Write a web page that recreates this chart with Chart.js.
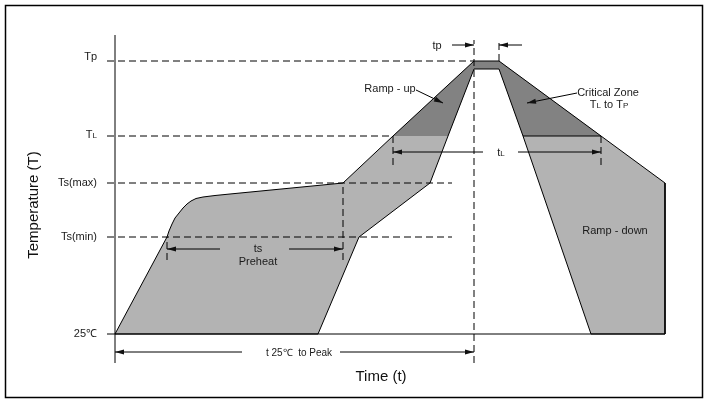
<!DOCTYPE html>
<html><head><meta charset="utf-8">
<script src="https://cdn.jsdelivr.net/npm/chart.js@4/dist/chart.umd.min.js"></script>
<style>html,body{margin:0;padding:0;background:#fff}canvas{display:block}</style>
</head><body>
<canvas id="c" width="708" height="403"></canvas>
<script>
// ---- Data (schematic units: t = time, T = temperature level) ----
const levelLabels = [['25℃'], ['Ts(min)'], ['Ts(max)'], ['T', 'L'], ['T', 'p']];
const levelValues = [0, 97, 151, 198, 273];
const levelLineEnd = [null, 337, 337, 278, 359];   // where each dashed level line stops
const levelLineStart = -8;

// hot (outer) edge of the profile band
const profileHot = [[0,0],[52,97],[54,103],[57,110],[60,116],[64,121],[68,126],[72,130],[76,133],[81,135.5],[88,137],[100,138.5],[115,140],[228,151],[278,198],[359,273],[384,273],[486,198],[550,151],[550,0]];
// cool (inner) edge of the profile band, going back
const profileCool = [[476,0],[408,198],[384,265],[359,265],[333,198],[315,151],[244,97],[203,0]];
// critical zone TL..Tp
const criticalZone = [[278,198],[359,273],[384,273],[486,198],[408,198],[384,265],[359,265],[333,198]];
const tlRightLine = [[408,198],[486,198]];

// vertical dashed markers: [t, Tfrom, Tto]
const tMarkers = [[359,-29,294],[384,273,294],[228,74,151],[52,74,97],[278,169,198],[486,169,198]];

// axis lines
const yAxisLine = [[0,-29],[0,299]];
const baseLine = [[-8,0],[550,0]];

// dimension arrows: segments [[t0,T0],[t1,T1]], arrowhead at end of each segment
const dimSegments = [
  [[105,85],[52,85]], [[174,85],[228,85]],        // ts
  [[368,182],[278,182]], [[403,182],[486,182]],   // tL
  [[127,-18],[0,-18]], [[225,-18],[359,-18]],     // t 25C to peak
  [[337,289],[359,289]], [[407,289],[384,289]],   // tp
  [[301,244],[328,231]],                          // ramp-up leader
  [[462,241],[412,231]]                           // critical zone leader
];

// text annotations: [parts, t, T, align]
const notes = [
  [[['Ramp - up']], 275, 246, 'center'],
  [[['Critical Zone']], 493, 242, 'center'],
  [[['T'],['L',8],[' to '],['T'],['P',8]], 494, 230, 'center'],
  [[['Ramp - down']], 500, 104, 'center'],
  [[['ts']], 143, 86, 'center'],
  [[['Preheat']], 143, 73, 'center'],
  [[['t'],['L',8]], 386, 182, 'center'],
  [[['tp']], 322, 289, 'center'],
  [[['t 25℃  to Peak', 10]], 184, -18, 'center']
];

const FONT = '"Liberation Sans", Arial, sans-serif';
const pts = a => a.map(p => ({x: p[0], y: p[1]}));

const datasets = [];
function line(data, opts) {
  datasets.push(Object.assign({
    data: pts(data), showLine: true, pointRadius: 0, borderColor: '#000', borderWidth: 1,
    fill: false, clip: false, order: 0, tension: 0
  }, opts || {}));
}
const fullShape = profileHot.concat(profileCool);
// fills
line(fullShape, {fill: 'shape', backgroundColor: '#b3b3b3', borderWidth: 0, order: 5});
line(criticalZone, {fill: 'shape', backgroundColor: '#828282', borderWidth: 0, order: 4});
// dashed level lines
levelValues.forEach((v, i) => {
  if (levelLineEnd[i] !== null) line([[levelLineStart, v],[levelLineEnd[i], v]], {borderDash: [7,4], order: 2});
});
tMarkers.forEach(m => line([[m[0], m[1]],[m[0], m[2]]], {borderDash: [7,4], order: 2}));
// outline
line(fullShape.concat([fullShape[0]]), {order: 1});
line(tlRightLine, {order: 1});
line(yAxisLine, {order: 0});
line(baseLine, {order: 0});
dimSegments.forEach(s => line(s, {order: 0}));

function drawRich(ctx, parts, x, y, align, defSize) {
  defSize = defSize || 11;
  let w = 0;
  parts.forEach(p => { ctx.font = (p[1] || defSize) + 'px ' + FONT; w += ctx.measureText(p[0]).width; });
  let cx = align === 'right' ? x - w : align === 'center' ? x - w / 2 : x;
  ctx.textAlign = 'left';
  ctx.textBaseline = 'alphabetic';
  parts.forEach(p => {
    ctx.font = (p[1] || defSize) + 'px ' + FONT;
    ctx.fillText(p[0], cx, y + 4);
    cx += ctx.measureText(p[0]).width;
  });
}

const annot = {
  id: 'annot',
  beforeDraw(chart) {
    const ctx = chart.ctx;
    ctx.save();
    ctx.fillStyle = '#fff';
    ctx.fillRect(0, 0, chart.width, chart.height);
    ctx.strokeStyle = '#000';
    ctx.lineWidth = 1.5;
    ctx.strokeRect(5.5, 5.5, 697, 392);
    ctx.restore();
  },
  afterDatasetsDraw(chart) {
    const ctx = chart.ctx, xs = chart.scales.x, ys = chart.scales.y;
    ctx.save();
    ctx.fillStyle = '#111';
    // arrowheads
    dimSegments.forEach(s => {
      const x0 = xs.getPixelForValue(s[0][0]), y0 = ys.getPixelForValue(s[0][1]);
      const x1 = xs.getPixelForValue(s[1][0]), y1 = ys.getPixelForValue(s[1][1]);
      const a = Math.atan2(y1 - y0, x1 - x0), L = 9, W = 2.6;
      ctx.beginPath();
      ctx.moveTo(x1, y1);
      ctx.lineTo(x1 - L * Math.cos(a) + W * Math.sin(a), y1 - L * Math.sin(a) - W * Math.cos(a));
      ctx.lineTo(x1 - L * Math.cos(a) - W * Math.sin(a), y1 - L * Math.sin(a) + W * Math.cos(a));
      ctx.closePath();
      ctx.fill();
    });
    ctx.fillStyle = '#1a1a1a';
    // level tick labels
    levelValues.forEach((v, i) => {
      const parts = levelLabels[i].length === 2 ? [[levelLabels[i][0]], [levelLabels[i][1], levelLabels[i][1] === 'L' ? 8 : 11]] : [[levelLabels[i][0]]];
      drawRich(ctx, parts, xs.getPixelForValue(-18), ys.getPixelForValue(v) - (i === 4 ? 5 : i === 3 ? 2 : 1), 'right');
    });
    notes.forEach(n => {
      const parts = n[0];
      drawRich(ctx, parts, xs.getPixelForValue(n[1]), ys.getPixelForValue(n[2]), n[3], parts[0][1] || 11);
    });
    // axis titles
    ctx.fillStyle = '#111';
    ctx.font = '15px ' + FONT;
    ctx.textAlign = 'center';
    ctx.textBaseline = 'middle';
    ctx.fillText('Time (t)', (xs.left + xs.right) / 2 - 9, ys.bottom + 43);
    ctx.translate(34, 205);
    ctx.rotate(-Math.PI / 2);
    ctx.fillText('Temperature (T)', 0, 0);
    ctx.restore();
  }
};

new Chart(document.getElementById('c'), {
  type: 'scatter',
  data: {datasets},
  options: {
    responsive: false, animation: false,
    layout: {padding: {left: 115, top: 61, right: 43, bottom: 69}},
    scales: {
      x: {type: 'linear', display: false, min: 0, max: 550},
      y: {type: 'linear', display: false, min: 0, max: 273}
    },
    plugins: {legend: {display: false}, tooltip: {enabled: false}}
  },
  plugins: [annot]
});
</script>
</body></html>
